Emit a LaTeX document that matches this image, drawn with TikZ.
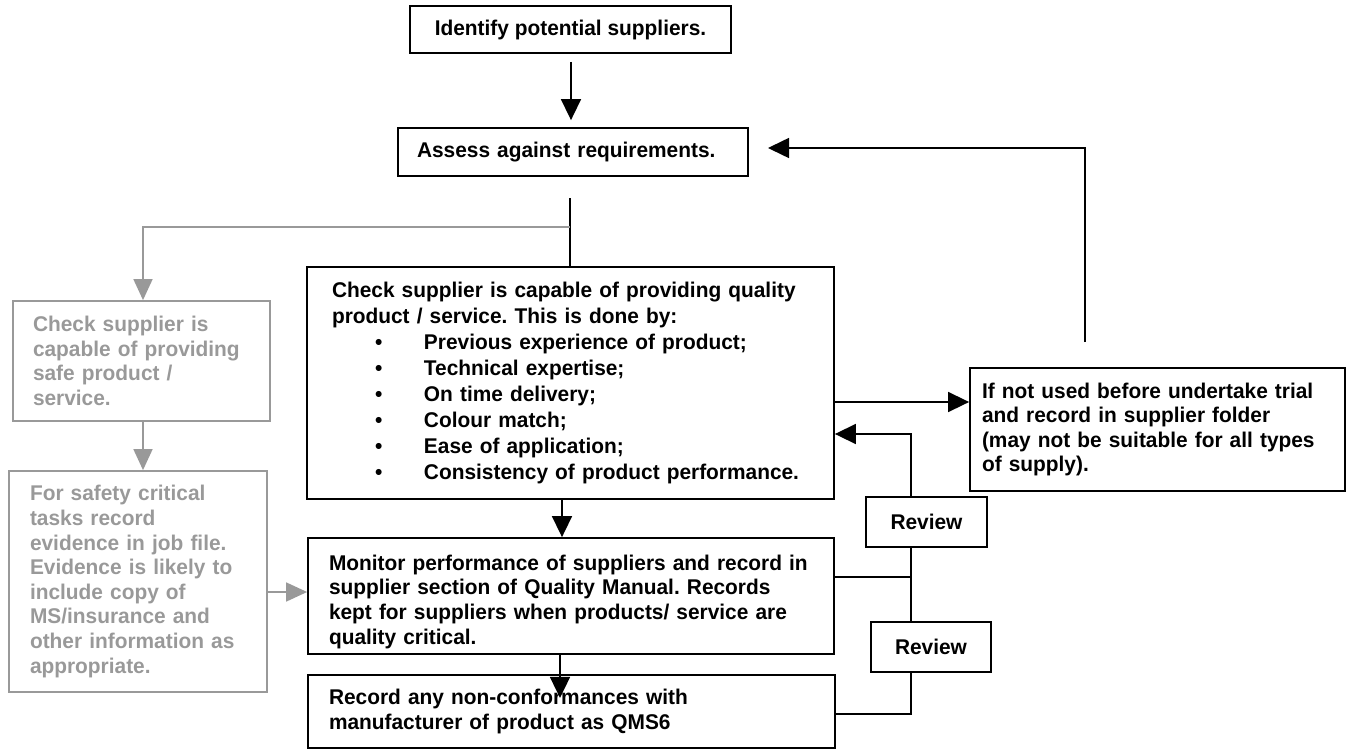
\documentclass[tikz,border=0pt]{standalone}
\usepackage{fontspec}
\setmainfont{Liberation Sans}[FakeStretch=0.98]
\usetikzlibrary{arrows.meta}
\definecolor{fadegrey}{HTML}{999999}
\newcommand{\bulletitem}[1]{\mbox{\hspace*{43pt}\makebox[49pt][l]{\textbullet}#1}}
\begin{document}
\frenchspacing
\begin{tikzpicture}[x=1pt,y=-1pt,
  font=\fontsize{21.3}{24.6}\selectfont\bfseries\frenchspacing,
  box/.style={draw=black,line width=1.8pt,rectangle,inner ysep=0pt,align=left},
  greybox/.style={draw=fadegrey,text=fadegrey,line width=1.8pt,rectangle,inner ysep=0pt,align=left},
  conn/.style={line width=1.6pt},
  arr/.style={conn,-{Triangle[length=21pt,width=20pt]}},
  greyarr/.style={line width=1.6pt,draw=fadegrey,-{Triangle[length=21pt,width=19pt]}},
]
\useasboundingbox (0,0) rectangle (1351,749);

% main column
\node[box,minimum width=321pt,minimum height=47pt,align=center] (identify) at (570.5,29.5)
  {Identify potential suppliers.};
\node[box,minimum width=350pt,minimum height=48pt,text width=312pt,inner xsep=19pt] (assess) at (573,152)
  {Assess against requirements.};
\node[box,minimum width=527pt,minimum height=232pt,text width=477pt,inner xsep=25pt,
      font=\fontsize{21.3}{26}\selectfont\bfseries\frenchspacing] (check) at (570.5,383)
  {\mbox{Check supplier is capable of providing quality}\\
   \mbox{product / service. This is done by:}\\
   \bulletitem{Previous experience of product;}\\
   \bulletitem{Technical expertise;}\\
   \bulletitem{On time delivery;}\\
   \bulletitem{Colour match;}\\
   \bulletitem{Ease of application;}\\
   \bulletitem{Consistency of product performance.}};
% text sits low in this box, close to its lower edge
\node[box,minimum width=526pt,minimum height=116pt,text width=484pt,inner xsep=21pt] (monitor) at (571,596)
  {\mbox{\rule{0pt}{27pt}Monitor performance of suppliers and record in}\\
   \mbox{supplier section of Quality Manual. Records}\\
   \mbox{kept for suppliers when products/ service are}\\
   \mbox{quality critical.}};
\node[box,minimum width=527pt,minimum height=73pt,text width=485pt,inner xsep=21pt] (record) at (571.5,711.5)
  {\mbox{Record any non-conformances with}\\
   \mbox{manufacturer of product as QMS6}};

% trial box and review boxes
\node[box,minimum width=375pt,minimum height=123pt,text width=351pt,inner xsep=12pt] (trial) at (1157.5,429.5)
  {\mbox{If not used before undertake trial}\\
   \mbox{and record in supplier folder}\\
   \mbox{(may not be suitable for all types}\\
   \mbox{of supply).}};
\node[box,minimum width=121pt,minimum height=50pt,align=center] (reviewA) at (926.5,522) {Review};
\node[box,minimum width=120pt,minimum height=50pt,align=center] (reviewB) at (931,647) {Review};

% safety branch
\node[greybox,minimum width=257pt,minimum height=120pt,text width=217pt,inner xsep=20pt] (safe) at (141.5,361)
  {\mbox{Check supplier is}\\
   \mbox{capable of providing}\\
   \mbox{safe product /}\\
   \mbox{service.}};
\node[greybox,minimum width=258pt,minimum height=221pt,text width=216pt,inner xsep=21pt] (evidence) at (138,581.5)
  {\mbox{For safety critical}\\
   \mbox{tasks record}\\
   \mbox{evidence in job file.}\\
   \mbox{Evidence is likely to}\\
   \mbox{include copy of}\\
   \mbox{MS/insurance and}\\
   \mbox{other information as}\\
   \mbox{appropriate.}};

% connectors
\draw[arr,shorten <=8pt,shorten >=7pt] (identify.south -| 571,0) -- (assess.north -| 571,0);
\draw[arr,shorten <=25pt] (trial.north -| 1085,0) |- (768,148);
\draw[conn] (570,198) -- (check.north -| 570,0);
\draw[greyarr] (570,227) -| (safe.north -| 143,0);
\draw[greyarr] (safe.south -| 143,0) -- (evidence.north -| 143,0);
\draw[greyarr] (evidence.east |- 0,592) -- (monitor.west |- 0,592);
\draw[arr] (check.east |- 0,402) -- (trial.west |- 0,402);
\draw[arr] (reviewA.north -| 911,0) |- (check.east |- 0,434);
\draw[conn] (reviewA.south -| 911,0) -- (reviewB.north -| 911,0);
\draw[conn] (monitor.east |- 0,577) -- (911,577);
\draw[conn] (reviewB.south -| 911,0) |- (record.east |- 0,714);
\draw[arr] (check.south -| 562,0) -- (monitor.north -| 562,0);
\draw[arr] (monitor.south -| 560,0) -- ++(0,43);
\end{tikzpicture}
\end{document}
